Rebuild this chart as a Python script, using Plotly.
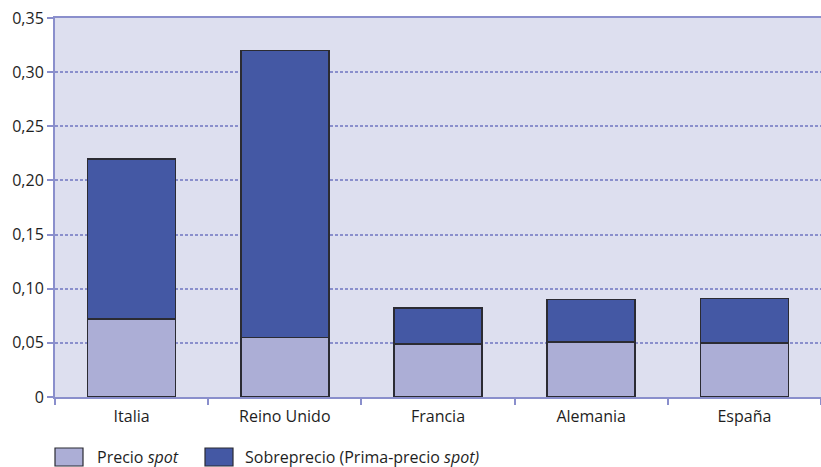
import plotly.graph_objects as go

# Precio spot y sobreprecio por país
paises = ["Italia", "Reino Unido", "Francia", "Alemania", "España"]
precio_spot = [0.072, 0.055, 0.049, 0.051, 0.050]
precio_total = [0.220, 0.320, 0.082, 0.090, 0.091]
sobreprecio = [round(t - s, 3) for t, s in zip(precio_total, precio_spot)]

y_ticks = [0, 0.05, 0.10, 0.15, 0.20, 0.25, 0.30, 0.35]
y_ticktext = ["0", "0,05", "0,10", "0,15", "0,20", "0,25", "0,30", "0,35"]

legend_labels = ["Precio <i>spot</i>", "Sobreprecio (Prima-precio <i>spot)</i>"]

c_spot = "#ACAED6"
c_prima = "#4458A4"
c_axis = "#8A8FCC"
c_text = "#1E1E1E"
font = "Open Sans, Noto Sans, sans-serif"

fig = go.Figure()
fig.add_trace(go.Bar(x=paises, y=precio_spot, name="Precio spot", width=0.575,
                     marker=dict(color=c_spot, line=dict(color="#2B2B33", width=1.5))))
fig.add_trace(go.Bar(x=paises, y=sobreprecio, name="Sobreprecio", width=0.575,
                     marker=dict(color=c_prima, line=dict(color="#2B2B33", width=1.5))))

fig.update_layout(
    barmode="stack",
    width=821, height=467,
    margin=dict(l=55, r=0, t=18, b=70),
    paper_bgcolor="white",
    plot_bgcolor="#DDDFEF",
    showlegend=False,
    font=dict(family=font, size=16, color=c_text),
)
fig.update_xaxes(
    range=[-0.5, 4.5], showline=True, linecolor=c_axis, linewidth=2, mirror=True,
    ticks="outside", tickson="boundaries", ticklen=6, tickcolor=c_axis, tickwidth=1.5,
    showgrid=False, tickfont=dict(size=16), ticklabelstandoff=4,
)
fig.update_yaxes(
    range=[0, 0.35], tickvals=y_ticks, ticktext=y_ticktext,
    showline=True, linecolor=c_axis, linewidth=2,
    ticks="outside", ticklen=6, tickcolor=c_axis, tickwidth=1.5,
    showgrid=True, gridcolor=c_axis, gridwidth=1.5, griddash="3px,2px",
    zeroline=False, tickfont=dict(size=16),
)

# Leyenda dibujada a mano al pie del gráfico
swatches = [(55, 83, c_spot, 95), (205, 233, c_prima, 243)]
for (x0, x1, col, tx), label in zip(swatches, legend_labels):
    fig.add_shape(type="rect", xref="paper", yref="paper",
                  x0=(x0 - 55) / 766, x1=(x1 - 55) / 766,
                  y0=(397 - 466) / 379, y1=(397 - 448) / 379,
                  fillcolor=col, line=dict(color="#2B2B33", width=1.2))
    fig.add_annotation(text=label, xref="paper", yref="paper",
                       x=(tx - 55) / 766, y=(397 - 457) / 379,
                       xanchor="left", yanchor="middle", showarrow=False,
                       font=dict(size=16, color=c_text))

fig.write_html("out.html")
